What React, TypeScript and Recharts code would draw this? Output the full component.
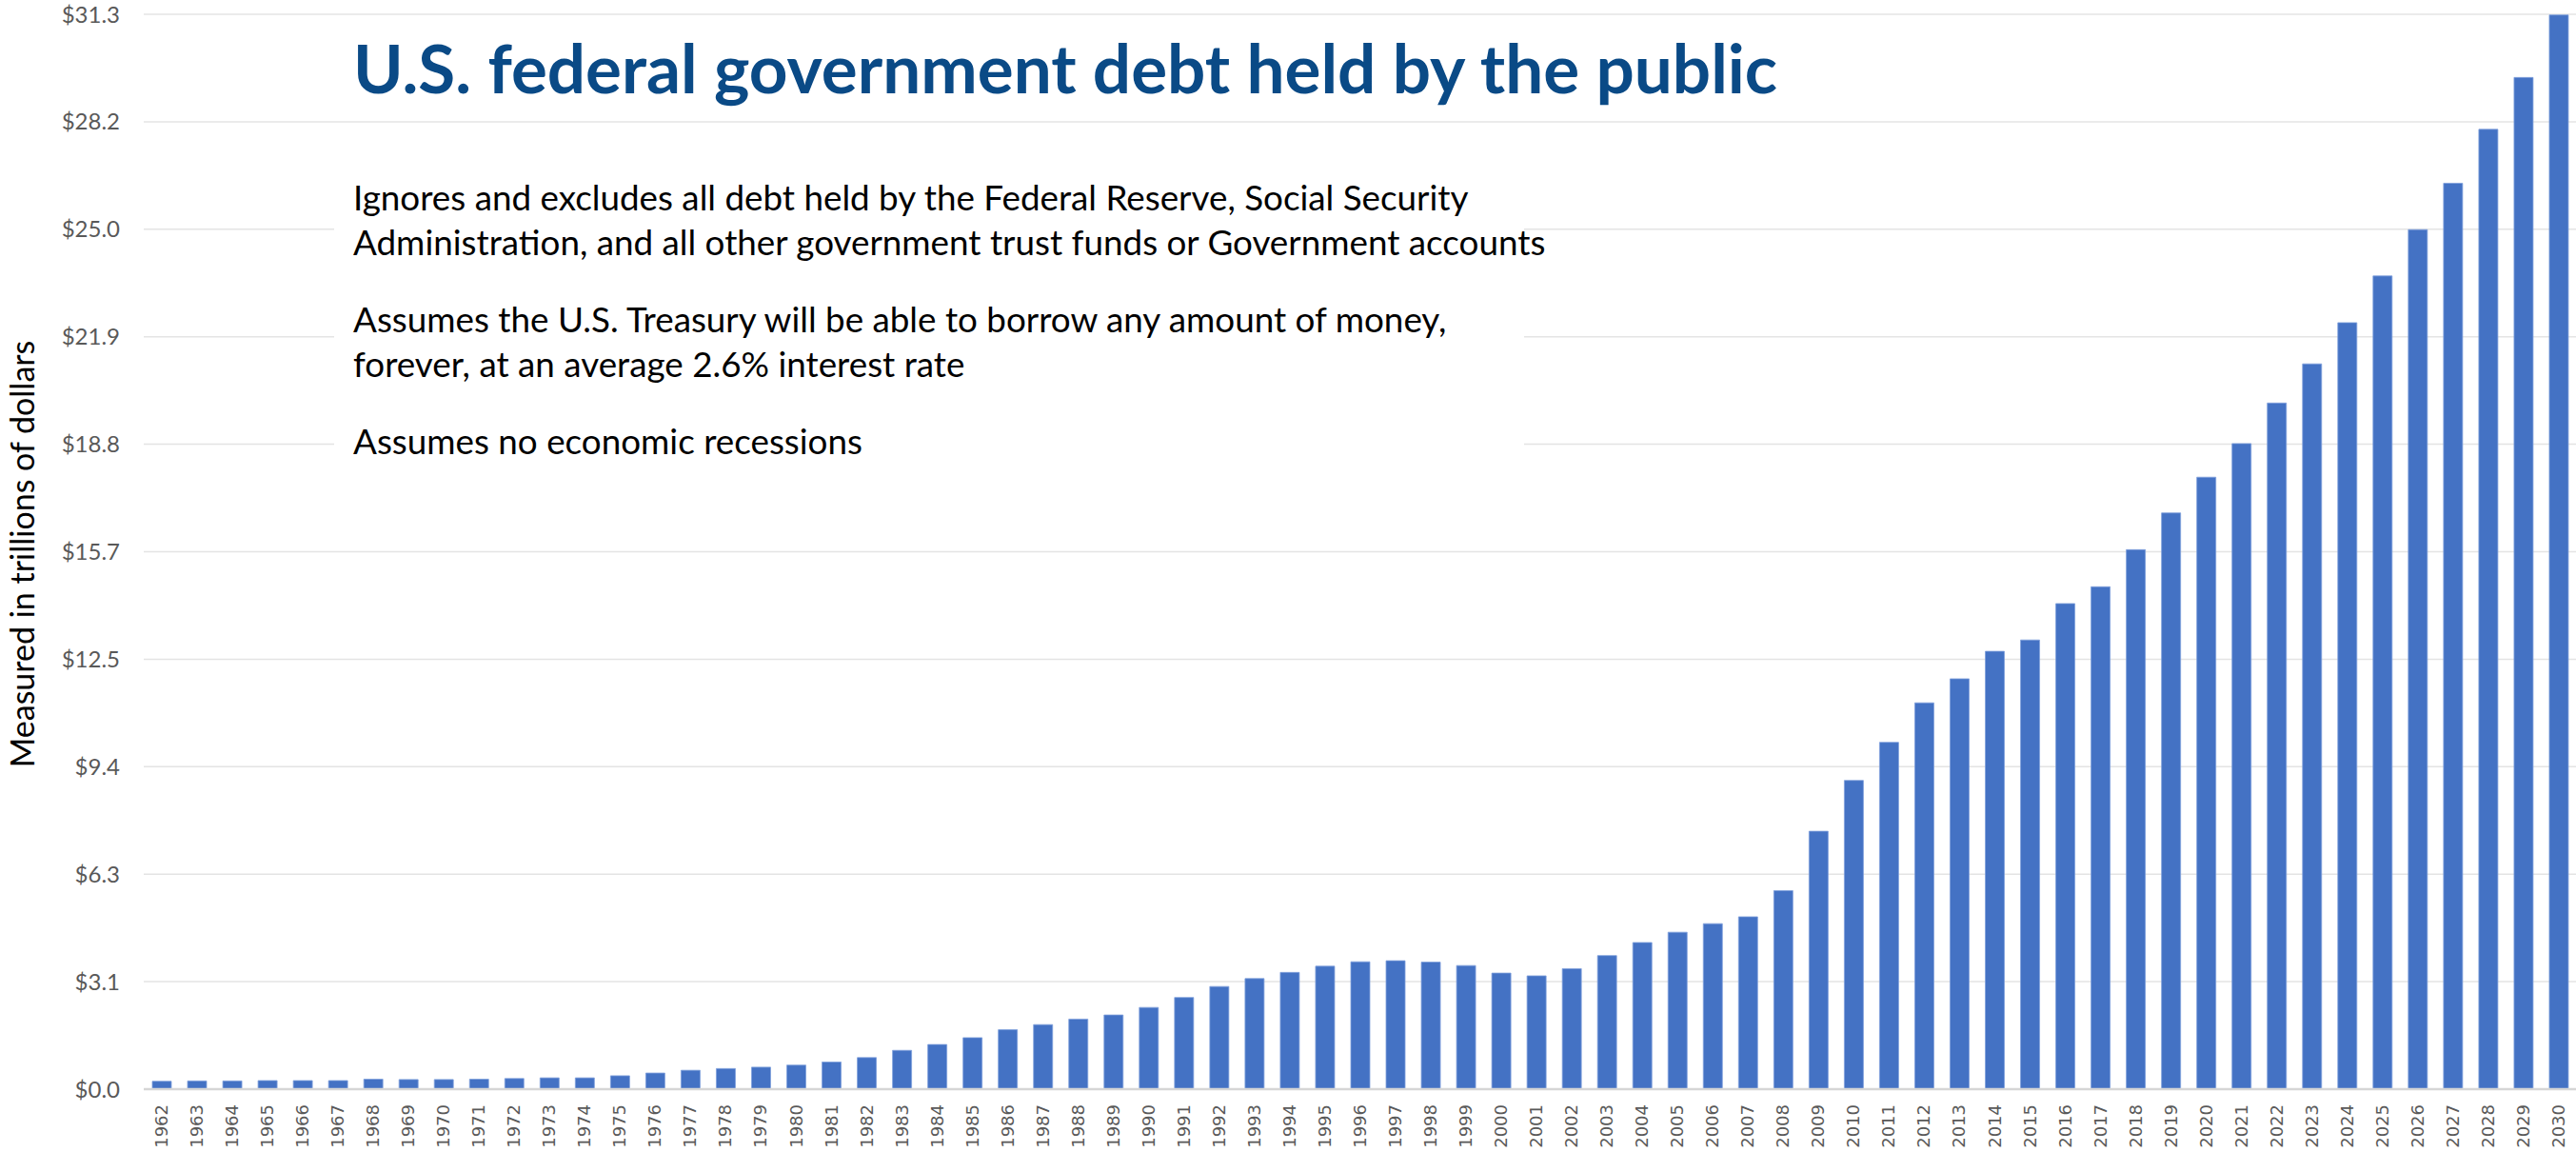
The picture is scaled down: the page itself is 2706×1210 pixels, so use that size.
import { BarChart, Bar, XAxis, YAxis, CartesianGrid } from "recharts";

const years = [
  "1962", "1963", "1964", "1965", "1966", "1967", "1968", "1969", "1970", "1971",
  "1972", "1973", "1974", "1975", "1976", "1977", "1978", "1979", "1980", "1981",
  "1982", "1983", "1984", "1985", "1986", "1987", "1988", "1989", "1990", "1991",
  "1992", "1993", "1994", "1995", "1996", "1997", "1998", "1999", "2000", "2001",
  "2002", "2003", "2004", "2005", "2006", "2007", "2008", "2009", "2010", "2011",
  "2012", "2013", "2014", "2015", "2016", "2017", "2018", "2019", "2020", "2021",
  "2022", "2023", "2024", "2025", "2026", "2027", "2028", "2029", "2030",
];

// trillions of dollars
const debtHeld = [
  0.23, 0.24, 0.24, 0.25, 0.25, 0.25, 0.29, 0.28, 0.28, 0.29,
  0.31, 0.33, 0.33, 0.39, 0.47, 0.55, 0.6, 0.64, 0.7, 0.79,
  0.92, 1.13, 1.3, 1.5, 1.73, 1.88, 2.04, 2.16, 2.38, 2.67,
  2.99, 3.22, 3.4, 3.58, 3.71, 3.74, 3.7, 3.6, 3.38, 3.3,
  3.51, 3.89, 4.27, 4.57, 4.82, 5.02, 5.78, 7.51, 8.99, 10.1,
  11.25, 11.95, 12.75, 13.08, 14.14, 14.63, 15.71, 16.78, 17.82, 18.8,
  19.98, 21.12, 22.32, 23.68, 25.03, 26.38, 27.95, 29.46, 31.28,
];

const yTicks = [0, 3.13, 6.26, 9.39, 12.52, 15.65, 18.78, 21.91, 25.04, 28.17, 31.3];
const yTickLabels = ["$0.0", "$3.1", "$6.3", "$9.4", "$12.5", "$15.7", "$18.8", "$21.9", "$25.0", "$28.2", "$31.3"];

const title = "U.S. federal government debt held by the public";
const yTitle = "Measured in trillions of dollars";
const notes = [
  ["Ignores and excludes all debt held by the Federal Reserve, Social Security", "Administration, and all other government trust funds or Government accounts"],
  ["Assumes the U.S. Treasury will be able to borrow any amount of money,", "forever, at an average 2.6% interest rate"],
  ["Assumes no economic recessions"],
];

const data = years.map((year, i) => ({ year, value: debtHeld[i] }));

const YearTick = (props: any) => {
  const { x, y, payload } = props;
  return (
    <text
      transform={`translate(${x}, ${y}) rotate(-90)`}
      textAnchor="end"
      dy="0.36em"
      fontFamily="DejaVu Sans"
      fontSize={18}
      fill="#595959"
    >
      {payload.value}
    </text>
  );
};

export default function App() {
  return (
    <div style={{ position: "absolute", left: 0, top: 0, width: 2706, height: 1210, background: "#fff" }}>
      <BarChart width={2706} height={1210} data={data} margin={{ top: 15, right: 0, bottom: 0, left: 0 }}>
        <CartesianGrid vertical={false} stroke="#e4e4e4" strokeWidth={1.5} />
        <XAxis
          dataKey="year"
          interval={0}
          height={66}
          tickLine={false}
          tickSize={0}
          axisLine={{ stroke: "#d6d6d6", strokeWidth: 2.5 }}
          tick={<YearTick />}
          tickMargin={16}
        />
        <YAxis
          width={151}
          domain={[0, 31.3]}
          ticks={yTicks}
          tickFormatter={(_v: number, i: number) => yTickLabels[i]}
          tickLine={false}
          axisLine={false}
          tickSize={0}
          tickMargin={25}
          tick={{ fill: "#595959", fontSize: 24, fontFamily: "Lato" }}
        />
        <Bar dataKey="value" fill="#4472C4" stroke="#7f9fdc" strokeWidth={0.8} barSize={20} isAnimationActive={false} />
      </BarChart>

      <svg width={60} height={1210} style={{ position: "absolute", left: 0, top: 0, pointerEvents: "none" }}>
        <text
          transform="translate(22, 582) rotate(-90)"
          textAnchor="middle"
          dominantBaseline="central"
          fontFamily="Lato"
          fontSize={34}
          fill="#000"
        >
          {yTitle}
        </text>
      </svg>

      <div
        style={{
          position: "absolute",
          left: 371,
          top: 35,
          whiteSpace: "nowrap",
          fontFamily: "Lato",
          fontWeight: 700,
          fontSize: 71,
          lineHeight: 1,
          color: "#0a4a86",
        }}
      >
        {title}
      </div>

      <div
        style={{
          position: "absolute",
          left: 351,
          top: 165,
          width: 1230,
          height: 330,
          paddingLeft: 20,
          paddingTop: 19,
          background: "#fff",
          fontFamily: "Lato",
          fontSize: 36.8,
          lineHeight: "47px",
          color: "#000",
        }}
      >
        {notes.map((lines, i) => (
          <div key={i} style={{ marginBottom: 34 }}>
            {lines.map((line) => (
              <div key={line} style={{ whiteSpace: "nowrap" }}>{line}</div>
            ))}
          </div>
        ))}
      </div>
    </div>
  );
}
